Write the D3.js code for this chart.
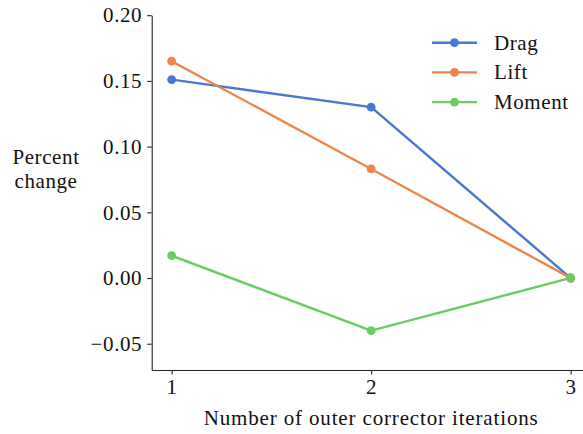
<!DOCTYPE html>
<html>
<head>
<meta charset="utf-8">
<script src="https://cdn.jsdelivr.net/npm/d3@7"></script>
<style>
  html, body { margin: 0; padding: 0; background: #fff; }
  svg text { font-family: "Liberation Serif", "DejaVu Serif", serif; fill: #111; letter-spacing: 0.6px; }
</style>
</head>
<body>
<svg id="chart" width="583" height="434"></svg>
<script>
// Iteration counts and percent change of each coefficient
const iterations = [1, 2, 3];
const drag   = [0.151, 0.130, 0.000];
const lift   = [0.165, 0.083, 0.000];
const moment = [0.017, -0.040, 0.000];

const seriesNames  = ["Drag", "Lift", "Moment"];
const seriesColors = ["#4878d0", "#ee854a", "#6acc64"];
const yTicks = [-0.05, 0.00, 0.05, 0.10, 0.15, 0.20];
const xTicks = [1, 2, 3];

const series = [drag, lift, moment].map((vals, i) => ({
  name: seriesNames[i],
  color: seriesColors[i],
  points: iterations.map((x, j) => ({ x, y: vals[j] }))
}));

const svg = d3.select("#chart");
const plotLeft = 151.7, plotRight = 590.6, plotTop = 15.2, plotBottom = 370;

const x = d3.scaleLinear().domain([0.9, 3.1]).range([plotLeft, plotRight]);
const y = d3.scaleLinear().domain([-0.07, 0.20]).range([plotBottom, plotTop]);

const fontSize = 21;

// y axis
const yAxis = svg.append("g")
  .attr("transform", `translate(${plotLeft},0)`)
  .call(d3.axisLeft(y).tickValues(yTicks)
    .tickFormat(d => (d < 0 ? "\u2212" : "") + Math.abs(d).toFixed(2))
    .tickSize(4.5).tickPadding(5).tickSizeOuter(0));

// x axis
const xAxis = svg.append("g")
  .attr("transform", `translate(0,${plotBottom})`)
  .call(d3.axisBottom(x).tickValues(xTicks).tickFormat(d3.format("d"))
    .tickSize(4.5).tickPadding(5).tickSizeOuter(0));

[yAxis, xAxis].forEach(g => {
  g.selectAll("path.domain").attr("stroke", "#222").attr("stroke-width", 1.1);
  g.selectAll(".tick line").attr("stroke", "#222").attr("stroke-width", 1.1);
  g.selectAll("text").style("font-family", "Liberation Serif, serif")
    .style("font-size", fontSize + "px").attr("fill", "#111");
});

// axis labels
svg.append("text")
  .attr("x", x(2)).attr("y", 425)
  .attr("text-anchor", "middle")
  .style("font-size", fontSize + "px")
  .style("letter-spacing", "0.85px")
  .text("Number of outer corrector iterations");

const ylab = svg.append("text")
  .attr("text-anchor", "middle")
  .style("font-size", fontSize + "px");
ylab.append("tspan").attr("x", 46).attr("y", 164).text("Percent");
ylab.append("tspan").attr("x", 46).attr("y", 188).text("change");

// lines and markers
const line = d3.line().x(d => x(d.x)).y(d => y(d.y));
series.forEach(s => {
  svg.append("path")
    .datum(s.points)
    .attr("d", line)
    .attr("fill", "none")
    .attr("stroke", s.color)
    .attr("stroke-width", 2.4)
    .attr("stroke-linejoin", "round")
    .attr("stroke-linecap", "square");
  svg.append("g").selectAll("circle")
    .data(s.points)
    .join("circle")
    .attr("cx", d => x(d.x))
    .attr("cy", d => y(d.y))
    .attr("r", 4.4)
    .attr("fill", s.color);
});

// legend
const legend = svg.append("g");
series.forEach((s, i) => {
  const cy = 42.7 + i * 29.7;
  legend.append("line")
    .attr("x1", 432).attr("x2", 477).attr("y1", cy).attr("y2", cy)
    .attr("stroke", s.color).attr("stroke-width", 2.4);
  legend.append("circle").attr("cx", 454.5).attr("cy", cy).attr("r", 4.4).attr("fill", s.color);
  legend.append("text")
    .attr("x", 494).attr("y", cy + 7)
    .style("font-size", fontSize + "px")
    .text(s.name);
});
</script>
</body>
</html>
